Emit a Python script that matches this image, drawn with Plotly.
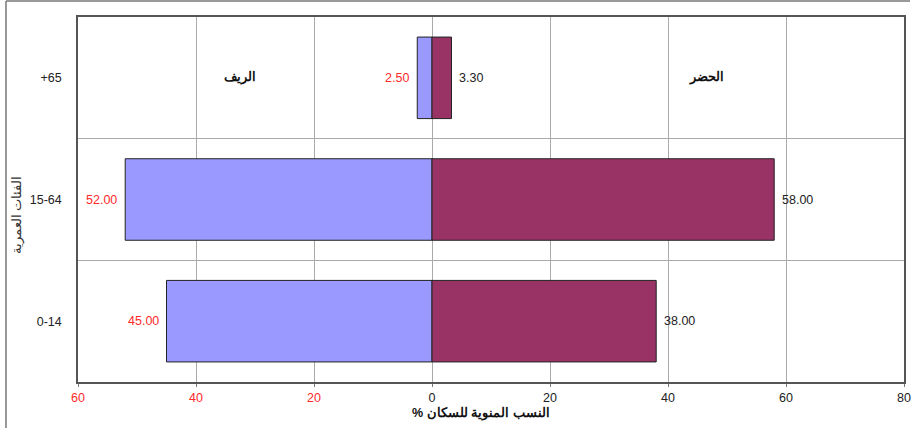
import plotly.graph_objects as go

# Data
age_groups = ["0-14", "15-64", "+65"]
rural = [45.00, 52.00, 2.50]
urban = [38.00, 58.00, 3.30]
rural_name = "الريف"
urban_name = "الحضر"
x_tick_vals = [-60, -40, -20, 0, 20, 40, 60, 80]
x_tick_labels = ["60", "40", "20", "0", "20", "40", "60", "80"]
x_title = "النسب المنوية للسكان %\u200f"
y_title = "الفئات العمرية"

RED = "#ff2a2a"
FONT = "Liberation Sans, Arial, sans-serif"

ypos = list(range(len(age_groups)))

fig = go.Figure()
fig.add_trace(go.Bar(
    y=ypos, x=[-v for v in rural], orientation="h", width=0.67,
    marker=dict(color="#9999ff", line=dict(color="#222222", width=1)),
    name=rural_name, hoverinfo="skip",
))
fig.add_trace(go.Bar(
    y=ypos, x=urban, orientation="h", width=0.67,
    marker=dict(color="#993366", line=dict(color="#222222", width=1)),
    name=urban_name, hoverinfo="skip",
))

annotations = []
for i, v in enumerate(rural):
    annotations.append(dict(x=-v, y=i, text=f"{v:.2f}", showarrow=False,
                            xanchor="right", xshift=-6,
                            font=dict(color=RED, size=12.5, family=FONT)))
for i, v in enumerate(urban):
    annotations.append(dict(x=v, y=i, text=f"{v:.2f}", showarrow=False,
                            xanchor="left", xshift=6,
                            font=dict(color="#222222", size=12.5, family=FONT)))
annotations.append(dict(x=-32.5, y=2, text=f"<b>{rural_name}</b>", showarrow=False,
                        font=dict(color="#111111", size=12.5, family=FONT)))
annotations.append(dict(x=46.6, y=2, text=f"<b>{urban_name}</b>", showarrow=False,
                        font=dict(color="#111111", size=12.5, family=FONT)))
# axis titles
annotations.append(dict(xref="paper", yref="paper", x=0.488, y=-0.085,
                        text=f"<b>{x_title}</b>", showarrow=False,
                        xanchor="center", yanchor="middle",
                        font=dict(color="#111111", size=12.5, family=FONT)))
annotations.append(dict(xref="paper", yref="paper", x=-0.074, y=0.457,
                        text=y_title, showarrow=False, textangle=-90,
                        xanchor="center", yanchor="middle",
                        font=dict(color="#333333", size=12.5, family=FONT)))

ticktext = []
for v, t in zip(x_tick_vals, x_tick_labels):
    if v < 0:
        ticktext.append(f"<span style='color:{RED}'>{t}</span>")
    else:
        ticktext.append(t)

fig.update_layout(
    width=914, height=428,
    margin=dict(l=78, r=10, t=17, b=46),
    barmode="relative",
    showlegend=False,
    plot_bgcolor="white", paper_bgcolor="white",
    font=dict(family=FONT, size=12, color="#222222"),
    annotations=annotations,
    xaxis=dict(
        range=[-60, 80], tickvals=x_tick_vals, ticktext=ticktext,
        showgrid=True, gridcolor="#aaaaaa", gridwidth=1,
        zeroline=False, showline=True, linecolor="#555555", linewidth=1.5,
        mirror=True, ticks="outside", ticklen=3, tickcolor="#777777",
        ticklabelstandoff=0, automargin=False,
        tickfont=dict(size=12.5, color="#222222"),
    ),
    yaxis=dict(
        range=[-0.5, 2.5], tickvals=ypos, ticktext=age_groups,
        showgrid=False, zeroline=False,
        showline=True, linecolor="#555555", linewidth=1.5, mirror=True,
        ticks="", ticklabelstandoff=12, automargin=False,
        tickfont=dict(size=12.5, color="#222222"),
        minor=dict(tickvals=[0.5, 1.5], showgrid=True, gridcolor="#aaaaaa", gridwidth=1),
    ),
    shapes=[
        dict(type="line", xref="paper", yref="paper", x0=-0.0872, x1=-0.0872, y0=-0.2, y1=1.0438,
             line=dict(color="#777777", width=1.5)),
        dict(type="line", xref="paper", yref="paper", x0=-0.0872, x1=1.0073, y0=1.0438, y1=1.0438,
             line=dict(color="#777777", width=1.5)),
    ],
)

fig.write_html("out.html")
